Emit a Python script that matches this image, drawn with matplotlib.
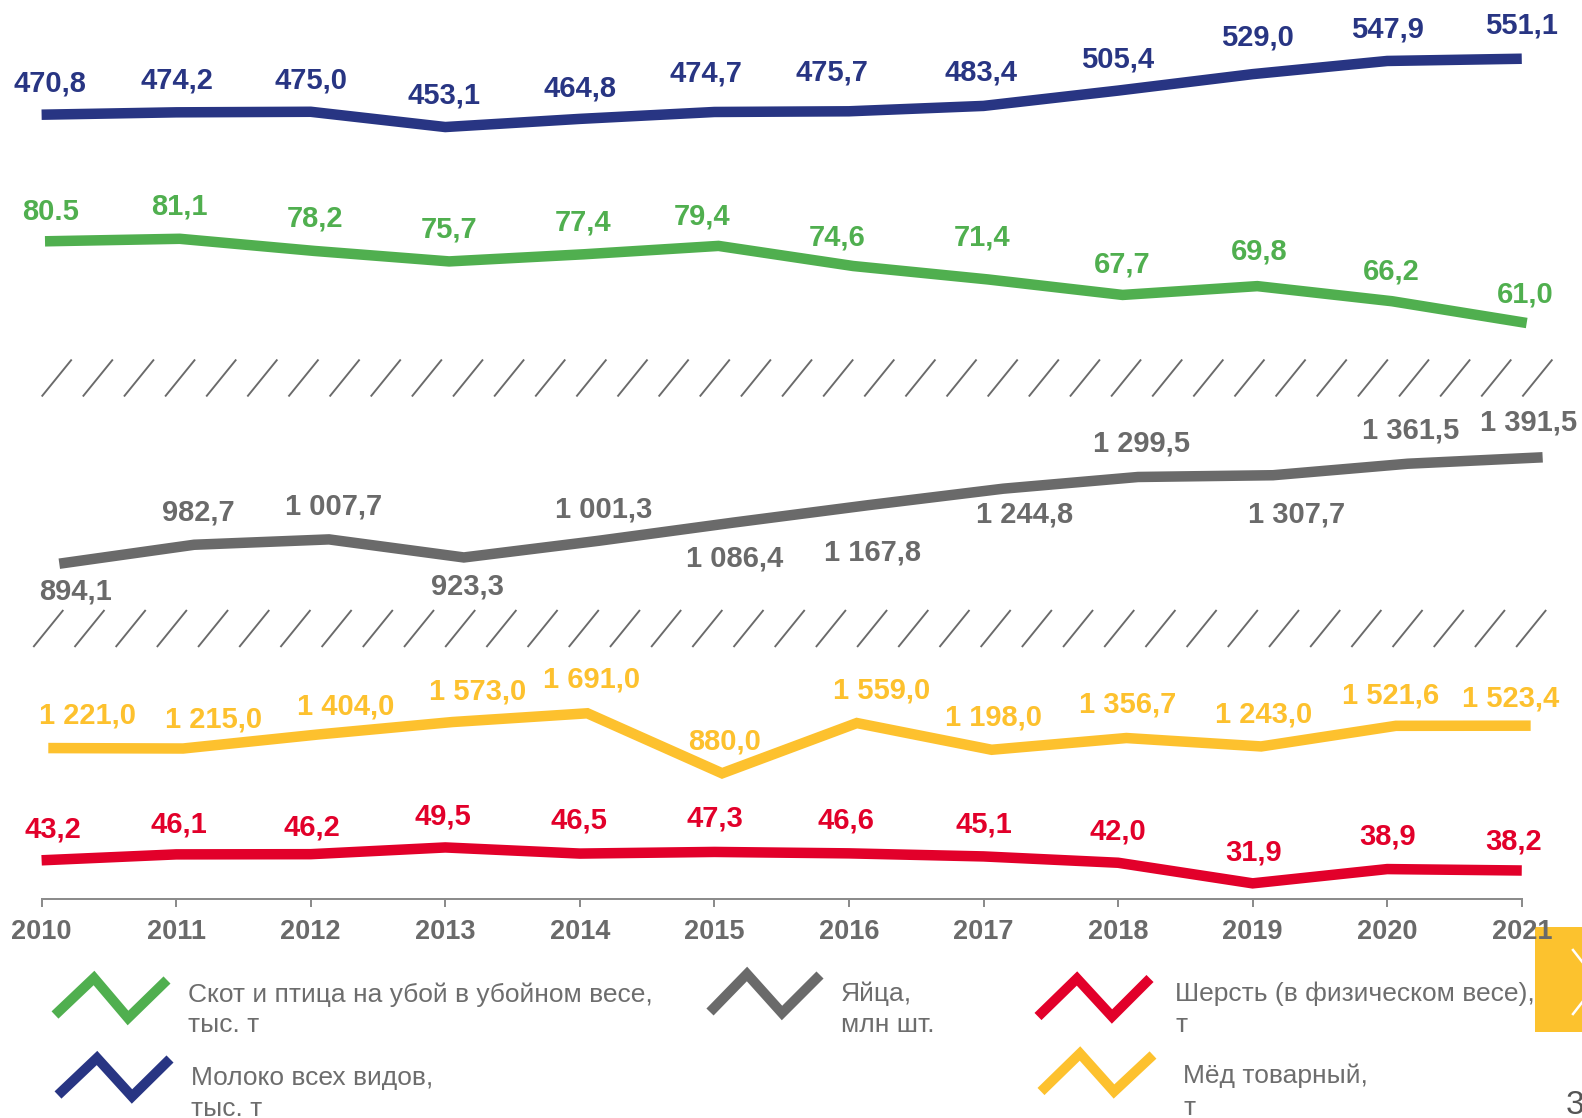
import matplotlib
matplotlib.use("Agg")
import matplotlib.pyplot as plt
from matplotlib.collections import LineCollection

# ---------------- data ----------------
years = [2010, 2011, 2012, 2013, 2014, 2015, 2016, 2017, 2018, 2019, 2020, 2021]
year_labels = ["2010", "2011", "2012", "2013", "2014", "2015", "2016", "2017",
               "2018", "2019", "2020", "2021"]

milk = [470.8, 474.2, 475.0, 453.1, 464.8, 474.7, 475.7, 483.4, 505.4, 529.0, 547.9, 551.1]
meat = [80.5, 81.1, 78.2, 75.7, 77.4, 79.4, 74.6, 71.4, 67.7, 69.8, 66.2, 61.0]
eggs = [894.1, 982.7, 1007.7, 923.3, 1001.3, 1086.4, 1167.8, 1244.8, 1299.5, 1307.7, 1361.5, 1391.5]
honey = [1221.0, 1215.0, 1404.0, 1573.0, 1691.0, 880.0, 1559.0, 1198.0, 1356.7, 1243.0, 1521.6, 1523.4]
wool = [43.2, 46.1, 46.2, 49.5, 46.5, 47.3, 46.6, 45.1, 42.0, 31.9, 38.9, 38.2]

legend_meat = ["Скот и птица на убой в убойном весе,", "тыс. т"]
legend_eggs = ["Яйца,", "млн шт."]
legend_wool = ["Шерсть (в физическом весе),", "т"]
legend_milk = ["Молоко всех видов,", "тыс. т"]
legend_honey = ["Мёд товарный,", "т"]


def fmt(v):
    return f"{v:,.1f}".replace(",", " ").replace(".", ",")


milk_labels = [fmt(v) for v in milk]
meat_labels = [fmt(v) for v in meat]
meat_labels[0] = "80.5"  # as printed in the source
eggs_labels = [fmt(v) for v in eggs]
honey_labels = [fmt(v) for v in honey]
wool_labels = [fmt(v) for v in wool]

# ---------------- layout / style ----------------
W, H = 1582, 1118
PT = 0.72  # points per pixel at dpi 100
plt.rcParams['font.family'] = ['Liberation Sans', 'DejaVu Sans']

C_BLUE = "#283583"
C_GREEN = "#50AF4F"
C_GREY = "#6A6A6A"
C_YELLOW = "#FDC12E"
C_RED = "#E2002A"
C_TXT = "#6D6D6D"

fig = plt.figure(figsize=(W / 100, H / 100), dpi=100)
fig.patch.set_facecolor("white")

# overlay (pixel coordinates) for decorations
ov = fig.add_axes([0, 0, 1, 1])
ov.set_xlim(0, W)
ov.set_ylim(H, 0)
ov.axis("off")
ov.set_zorder(0)

series = [
    dict(v=milk, lab=milk_labels, c=C_BLUE, x0=41.6, sp=134.56, av=470.8, ay=114.7, sc=0.697,
         dx=[8.8, 0.4, 0.1, -1.3, 0.4, -8.1, -16.6, -2.8, 0, 4.6, 0.2, -0.3],
         dy=[34.0, 34.6, 34.1, 34.2, 33.1, 41.4, 41.7, 36.3, 34.1, 38.8, 33.8, 35.5]),
    dict(v=meat, lab=meat_labels, c=C_GREEN, x0=45.0, sp=134.7, av=80.5, ay=241.3, sc=4.19,
         dx=[5.4, 0, 0.4, 0, -0.6, -16.2, -15.7, -6.2, -0.6, 1.9, -0.6, -1.1],
         dy=[32.4, 35.0, 35.0, 34.4, 34.3, 32.0, 30.9, 44.3, 32.6, 36.9, 32.8, 31.4]),
    dict(v=eggs, lab=eggs_labels, c=C_GREY, x0=59.3, sp=134.85, av=894.1, ay=563.7, sc=0.2139,
         dx=[16.4, 4.6, 5.0, 3.3, 4.7, 1.0, 4.4, 21.8, 3.1, 23.6, 2.8, -14.1],
         dy=[-25.6, 35.2, 35.9, -26.7, 34.3, -33.4, -44.7, -22.9, 36.1, -36.4, 35.9, 37.6]),
    dict(v=honey, lab=honey_labels, c=C_YELLOW, x0=48.3, sp=134.76, av=880.0, ay=773.3, sc=0.074,
         dx=[39.5, 30.8, 28.3, 24.6, 4.0, 2.4, 25.0, 2.3, 1.7, 2.2, -5.5, -20.2],
         dy=[34.7, 32.1, 30.2, 32.9, 36.3, 34.7, 35.0, 34.4, 35.8, 34.1, 32.6, 29.4]),
    dict(v=wool, lab=wool_labels, c=C_RED, x0=41.6, sp=134.56, av=43.2, ay=860.3, sc=2.04,
         dx=[10.9, 2.4, 1.1, -2.3, -0.6, 0, -3.4, 0.3, -0.1, 0.6, 0.2, -8.3],
         dy=[33.9, 32.1, 28.8, 33.1, 35.3, 35.6, 35.1, 34.1, 34.3, 33.8, 34.7, 32.0]),
]

LABEL_FS = 21
CAP_HALF = 10.6  # half cap height in px

for i, s in enumerate(series):
    ax = fig.add_axes([0, 0, 1, 1])
    ax.set_zorder(2 + i)
    ax.patch.set_visible(False)
    ax.axis("off")
    ax.set_xlim(years[0] - s["x0"] / s["sp"], years[0] + (W - s["x0"]) / s["sp"])
    ax.set_ylim(s["av"] - (H - s["ay"]) / s["sc"], s["av"] + s["ay"] / s["sc"])
    ax.plot(years, s["v"], color=s["c"], lw=10.5 * PT, solid_capstyle="butt",
            solid_joinstyle="miter")
    for x, y, t, dx, dy in zip(years, s["v"], s["lab"], s["dx"], s["dy"]):
        ax.annotate(t, xy=(x, y), xytext=(dx * PT, (dy - CAP_HALF) * PT),
                    textcoords="offset points", ha="center", va="baseline",
                    fontsize=LABEL_FS, fontweight="bold", color=s["c"])

# ---------------- year axis ----------------
AXIS_Y = 899
axx = fig.add_axes([0, (H - AXIS_Y) / H, 1, 0.02])
axx.set_zorder(10)
axx.patch.set_visible(False)
axx.set_xlim(years[0] - 41.6 / 134.56, years[0] + (W - 41.6) / 134.56)
for sp in ["top", "left", "right"]:
    axx.spines[sp].set_visible(False)
axx.spines["bottom"].set_bounds(years[0], years[-1])
axx.spines["bottom"].set_color("#8C8C8C")
axx.spines["bottom"].set_linewidth(2 * PT)
axx.set_yticks([])
axx.set_xticks(years)
axx.set_xticklabels(year_labels)
axx.tick_params(axis="x", direction="out", length=8 * PT, width=2 * PT, color="#8C8C8C",
                pad=8.5, labelsize=19.5, labelcolor=C_GREY)
for t in axx.get_xticklabels():
    t.set_fontweight("bold")

# ---------------- break hatches ----------------
def hatch_row(x_start, spacing, n, yb, yt, dx):
    segs = [[(x_start + k * spacing, yb), (x_start + k * spacing + dx, yt)] for k in range(n)]
    ov.add_collection(LineCollection(segs, colors="#6A6A6A", linewidths=1.9 * PT))

hatch_row(41.7, 41.13, 37, 396.5, 359.5, 30)
hatch_row(33.3, 41.19, 37, 647.0, 610.0, 30)

# ---------------- legend ----------------
def zig(pts, color):
    xs = [p[0] for p in pts]
    ys = [p[1] for p in pts]
    ov.plot(xs, ys, color=color, lw=10 * PT, solid_capstyle="butt", solid_joinstyle="miter")


LEG_FS = 19


def leg_text(x, baselines, lines):
    for b, ln in zip(baselines, lines):
        ov.text(x, b, ln, fontsize=LEG_FS, color=C_TXT, va="baseline", ha="left")


zig([(55, 1015), (94, 978), (128, 1018), (167, 980)], C_GREEN)
leg_text(188, [1002, 1032.5], legend_meat)
zig([(710, 1012), (747, 974), (782, 1013), (820, 975)], C_GREY)
leg_text(841, [1000.5, 1032.5], legend_eggs)
zig([(1038, 1016.5), (1077, 978.5), (1112, 1016.5), (1150, 978.5)], C_RED)
leg_text(1175, [1001.5, 1032.5], legend_wool)
zig([(58, 1095), (97, 1058), (132, 1096.5), (170, 1059)], C_BLUE)
leg_text(191, [1084.5, 1116], legend_milk)
zig([(1041, 1091.5), (1080, 1053.5), (1114, 1091.5), (1153, 1055)], C_YELLOW)
leg_text(1183, [1083.5, 1115], legend_honey)

# ---------------- page decorations ----------------
ov.add_patch(plt.Rectangle((1535, 927), 60, 105, facecolor="#FCC22E", edgecolor="none"))
ov.plot([1573, 1598, 1573], [950, 982, 1014], color="white", lw=2.5 * PT)
ov.text(1566, 1106, "3", fontsize=24, color="#555555", va="center", ha="left")

fig.savefig("out.png", dpi=100)
